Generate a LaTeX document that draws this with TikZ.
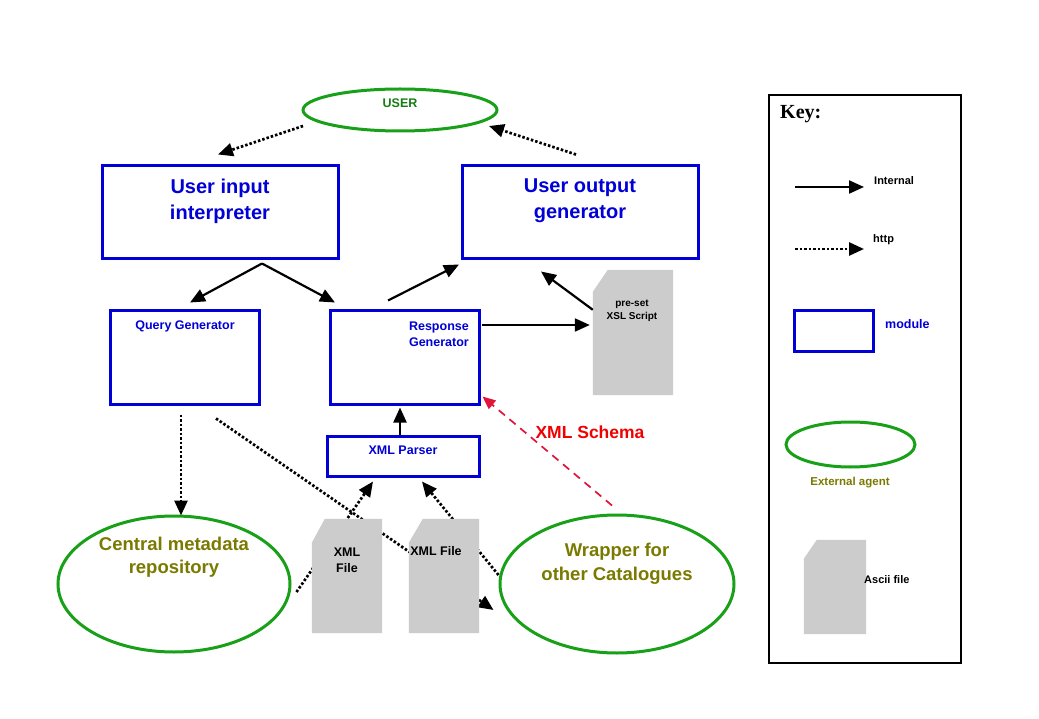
\documentclass[tikz,border=0pt]{standalone}
\usepackage{fontspec}
\setmainfont{Liberation Sans}
\newfontfamily\keyserif{Liberation Serif}
\usetikzlibrary{arrows.meta,shapes.geometric,calc}
\definecolor{modblue}{RGB}{0,0,215}
\definecolor{agentgreen}{RGB}{25,160,25}
\definecolor{usergreen}{RGB}{20,125,20}
\definecolor{olivetxt}{RGB}{122,122,0}
\definecolor{filegray}{RGB}{204,204,204}
\definecolor{schemared}{RGB}{225,20,60}
\definecolor{labelred}{RGB}{240,0,0}
\tikzset{
  modbox/.style={draw=modblue, line width=3pt, rectangle, inner sep=0pt},
  agent/.style={draw=agentgreen, line width=3pt, ellipse, inner sep=0pt},
  filebox/.style={rectangle, inner sep=0pt},
  internal/.style={line width=2.2pt, -{Triangle[length=15pt,width=13pt]}},
  http/.style={line width=2.7pt, dash pattern=on 2.5pt off 2pt, -{Triangle[length=15pt,width=13pt]}},
  schema/.style={draw=schemared, line width=1.7pt, dash pattern=on 8pt off 6pt, -{Triangle[length=13pt,width=11pt]}},
  txt/.style={inner sep=0pt, font=\bfseries},
  bigtxt/.style={txt, align=center, text=modblue, font=\fontsize{20}{26}\selectfont\bfseries},
  modtxt/.style={txt, text=modblue, font=\fontsize{12.5}{16}\selectfont\bfseries},
  agenttxt/.style={txt, align=center, text=olivetxt, font=\fontsize{18.5}{23}\selectfont\bfseries},
  filetxt/.style={txt, align=center, text=black},
  keytxt/.style={txt, anchor=west, font=\fontsize{11}{13}\selectfont\bfseries}
}
\begin{document}
\begin{tikzpicture}[x=1pt,y=-1pt]
\fill[white] (0,0) rectangle (1039,719);
\useasboundingbox (0,0) rectangle (1039,719);

% ---- nodes ----
\node[agent, minimum width=194, minimum height=42] (user) at (400,110) {};
\node[modbox, minimum width=236, minimum height=93] (uii) at (220,212.5) {};
\node[modbox, minimum width=236, minimum height=93] (uog) at (580,212.5) {};
\node[modbox, minimum width=149, minimum height=93] (qg) at (184.5,357.5) {};
\node[modbox, minimum width=149, minimum height=93] (rg) at (404.5,357.5) {};
\node[modbox, minimum width=152, minimum height=40] (xp) at (403,456) {};
\node[agent, minimum width=232, minimum height=136] (cmr) at (174,584) {};
\node[agent, minimum width=234, minimum height=138] (wr) at (617,584) {};
\node[filebox, minimum width=80, minimum height=125] (xsl) at (633,332.5) {};
\node[filebox, minimum width=70, minimum height=114] (xml1) at (347,576) {};
\node[filebox, minimum width=70, minimum height=114] (xml2) at (444,576) {};

% ---- texts in nodes ----
\node[txt, text=usergreen, font=\fontsize{12.5}{15}\selectfont\bfseries] at (400,103.5) {USER};
\node[bigtxt] at (220,201) {User input\\interpreter};
\node[bigtxt] at (580,201) {User output\\generator};
\node[modtxt] at (185,326) {Query Generator};
\node[modtxt, anchor=east, align=right] at (469,334) {Response\\Generator};
\node[modtxt] at (403,450.5) {XML Parser};
\node[agenttxt] at (174,557) {Central metadata\\repository};
\node[agenttxt, font=\fontsize{18.5}{24}\selectfont\bfseries] at (617,564) {Wrapper for\\other Catalogues};

% ---- http connectors hidden behind the files ----
\draw[http] ([shift={(31.5,13)}]qg.south) -- ([shift={(-5,26)}]wr.west);
\draw[http] ([shift={(5,8)}]cmr.east) -- ([shift={(-30,4)}]xp.south);
\draw[http] ([shift={(0,-9)}]wr.west) -- ([shift={(19,4)}]xp.south);

% ---- files ----
\fill[filegray] ([yshift=-22]xsl.north west) -- ([xshift=15]xsl.north west) -- (xsl.north east) -- (xsl.south east) -- (xsl.south west) -- cycle;
\fill[filegray] ([yshift=-24]xml1.north west) -- ([xshift=13]xml1.north west) -- (xml1.north east) -- (xml1.south east) -- (xml1.south west) -- cycle;
\fill[filegray] ([yshift=-24]xml2.north west) -- ([xshift=14]xml2.north west) -- (xml2.north east) -- (xml2.south east) -- (xml2.south west) -- cycle;
\node[filetxt, font=\fontsize{10}{13}\selectfont\bfseries] at (632,311) {pre-set\\XSL Script};
\node[filetxt, font=\fontsize{12.5}{16}\selectfont\bfseries] at (347,560) {XML\\File};
\node[filetxt, font=\fontsize{12.5}{16}\selectfont\bfseries] at (436,551) {XML File};

% ---- other connectors ----
\draw[http] ([shift={(-97,16)}]user.center) -- ([shift={(-2,-10)}]uii.north);
\draw[http] ([shift={(-4,-10)}]uog.north) -- ([shift={(89,16)}]user.center);
\draw[internal] ([shift={(42,3)}]uii.south) -- ([shift={(5.5,-7)}]qg.north);
\draw[internal] ([shift={(42,3)}]uii.south) -- ([shift={(-69.5,-7)}]rg.north);
\draw[internal] ([shift={(-16.5,-9)}]rg.north) -- ([shift={(-121,4)}]uog.south);
\draw[internal] ([yshift=-40]xsl.north west) -- ([shift={(-39,11)}]uog.south);
\draw[internal] ([shift={(1,-32.5)}]rg.east) -- ([shift={(-3,-7.5)}]xsl.west);
\draw[internal] ([xshift=-3]xp.north) -- ([shift={(-4.5,2)}]rg.south);
\draw[http] ([shift={(-3.5,9)}]qg.south) -- ([shift={(7,1)}]cmr.north);
\draw[schema] ([shift={(-5,-8)}]wr.north) -- ([shift={(2,-9)}]rg.south east);
\node[txt, text=labelred, font=\fontsize{17.5}{20}\selectfont\bfseries] at (590,432) {XML Schema};

% ---- key ----
\node[draw=black, line width=1.3pt, rectangle, inner sep=0pt, minimum width=192, minimum height=568] (key) at (865,379) {};
\node[txt, anchor=west, font=\keyserif\fontsize{20}{24}\selectfont\bfseries] at (780,114) {Key:};
\coordinate (ki1) at (795,187);
\coordinate (ki2) at (864,187);
\draw[internal] (ki1) -- (ki2);
\node[keytxt] at (874,181) {Internal};
\coordinate (kh1) at (795,249);
\coordinate (kh2) at (864,249);
\draw[http] (kh1) -- (kh2);
\node[keytxt] at (873,240) {http};
\node[modbox, minimum width=79, minimum height=41] (kmod) at (834,331.5) {};
\node[keytxt, text=modblue, font=\fontsize{12.5}{15}\selectfont\bfseries] at (885,324) {module};
\node[agent, minimum width=129, minimum height=45] (kagent) at (850.5,444.5) {};
\node[txt, text=olivetxt, font=\fontsize{11.5}{14}\selectfont\bfseries] at (850,483) {External agent};
\node[filebox, minimum width=62, minimum height=94] (kfile) at (835,587) {};
\fill[filegray] ([yshift=-19]kfile.north west) -- ([xshift=13]kfile.north west) -- (kfile.north east) -- (kfile.south east) -- (kfile.south west) -- cycle;
\node[keytxt] at (864,580) {Ascii file};
\end{tikzpicture}
\end{document}
